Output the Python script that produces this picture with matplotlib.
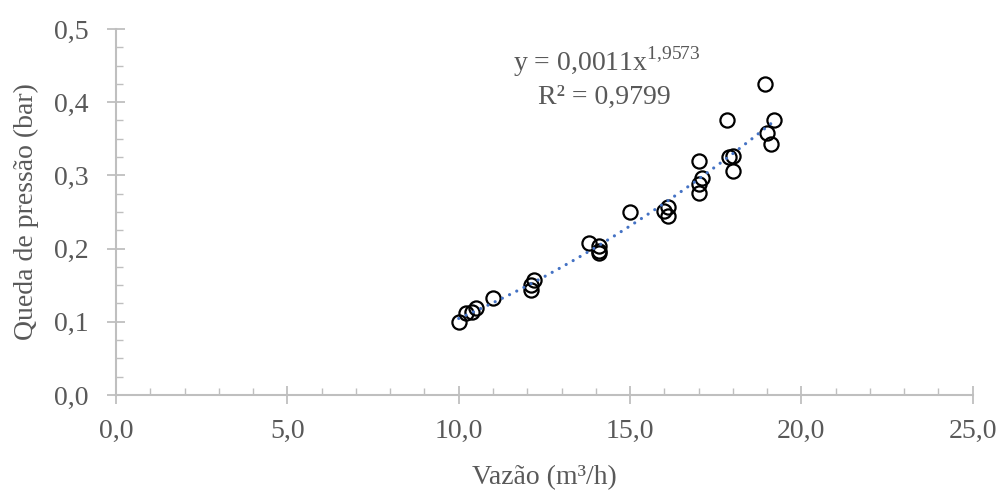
import numpy as np
import matplotlib
matplotlib.use('Agg')
import matplotlib.pyplot as plt
from matplotlib.ticker import MultipleLocator, FuncFormatter

# Vazao (m3/h) vs queda de pressao (bar)
vazao = [10.0, 10.2, 10.4, 10.5, 11.0, 12.1, 12.1, 12.2,
         13.8, 14.1, 14.1, 14.1, 15.0, 16.0, 16.1, 16.1,
         17.0, 17.0, 17.1, 17.0, 17.83, 17.9, 18.0, 18.0,
         18.95, 19.0, 19.1, 19.2]
queda = [0.100, 0.112, 0.113, 0.119, 0.132, 0.144, 0.150, 0.157,
         0.207, 0.194, 0.197, 0.204, 0.250, 0.252, 0.257, 0.244,
         0.319, 0.276, 0.296, 0.288, 0.375, 0.325, 0.326, 0.306,
         0.425, 0.358, 0.343, 0.376]

eq_text = 'y = 0,0011x'
eq_exp = '1{,}9573'
r2_text = 'R² = 0,9799'

plt.rcParams['font.family'] = ['Liberation Serif', 'DejaVu Serif']
plt.rcParams['mathtext.fontset'] = 'custom'
plt.rcParams['mathtext.rm'] = 'Liberation Serif'

grey_txt = '#595959'
grey_ax = '#BFBFBF'
fs = 20

fig = plt.figure(figsize=(10.02, 4.91), dpi=100)
ax = fig.add_axes([0.1158, 0.1955, 0.855, 0.7455])

ax.plot(vazao, queda, 'o', mfc='none', mec='black', ms=10.2, mew=1.6, zorder=3)

# power trendline (least squares on log-log, like Excel)
b, loga = np.polyfit(np.log(vazao), np.log(queda), 1)
xs = np.linspace(min(vazao), max(vazao), 200)
ax.plot(xs, np.exp(loga) * xs ** b, color='#4472C4', lw=2.3,
        linestyle=(0, (0.01, 2.5)), dash_capstyle='round', zorder=4)

ax.text(14.31, 0.4557, eq_text + r'$^{\mathregular{' + eq_exp + '}}$', ha='center', va='center',
        fontsize=fs, color=grey_txt)
ax.text(14.26, 0.4066, r2_text, ha='center', va='center',
        fontsize=fs, color=grey_txt)

ax.set_xlim(0, 25)
ax.set_ylim(0, 0.5)
ax.xaxis.set_major_locator(MultipleLocator(5))
ax.xaxis.set_minor_locator(MultipleLocator(1))
ax.yaxis.set_major_locator(MultipleLocator(0.1))
ax.yaxis.set_minor_locator(MultipleLocator(0.025))
fmt = FuncFormatter(lambda v, p: f'{v:.1f}'.replace('.', ','))
ax.xaxis.set_major_formatter(fmt)
ax.yaxis.set_major_formatter(fmt)

for s in ['top', 'right']:
    ax.spines[s].set_visible(False)
for s in ['left', 'bottom']:
    ax.spines[s].set_color(grey_ax)
    ax.spines[s].set_linewidth(1.5)

ax.tick_params(which='major', direction='inout', length=13, width=1.3, color=grey_ax,
               labelsize=fs, labelcolor=grey_txt)
ax.tick_params(axis='y', which='major', pad=13)
ax.tick_params(axis='x', which='major', pad=11)
ax.tick_params(which='minor', direction='in', length=5, width=1.0, color=grey_ax)

ax.set_xlabel('Vazão (m³/h)', fontsize=fs, color=grey_txt, labelpad=15)
ax.set_ylabel('Queda de pressão (bar)', fontsize=fs, color=grey_txt, labelpad=11)

fig.savefig('out.png', dpi=100)
